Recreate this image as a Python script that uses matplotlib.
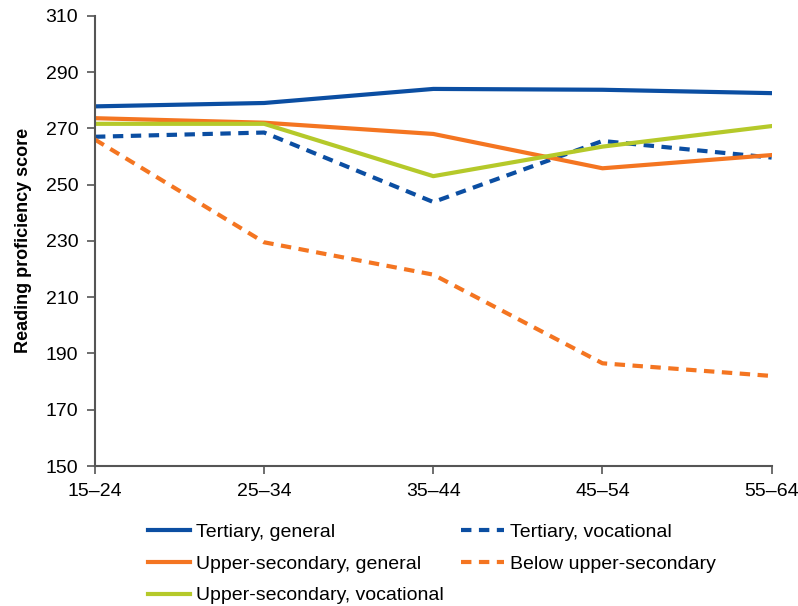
import matplotlib
matplotlib.use("Agg")
import matplotlib.pyplot as plt

plt.rcParams['font.family'] = ['Liberation Sans', 'DejaVu Sans']

ages = ["15\u201324", "25\u201334", "35\u201344", "45\u201354", "55\u201364"]

tertiary_general = [277.8, 279.0, 284.0, 283.7, 282.5]
upper_sec_general = [273.6, 272.0, 268.0, 255.8, 260.5]
upper_sec_vocational = [271.6, 271.6, 253.0, 263.5, 270.8]
tertiary_vocational = [267.0, 268.5, 243.8, 265.5, 259.6]
below_upper_sec = [266.0, 229.5, 218.0, 186.5, 182.0]

y_ticks = [150, 170, 190, 210, 230, 250, 270, 290, 310]

blue = "#0b4ea2"
orange = "#f47521"
green = "#b5c92a"

fig = plt.figure(figsize=(7.98, 6.06), dpi=100)
ax = fig.add_axes([0.119, 0.231, 0.848, 0.743])

x = range(len(ages))
lw = 3.0
ax.plot(x, tertiary_general, color=blue, lw=lw, label="Tertiary, general")
ax.plot(x, tertiary_vocational, color=blue, lw=lw, ls=(0, (2.5, 1.8)), label="Tertiary, vocational")
ax.plot(x, upper_sec_general, color=orange, lw=lw, label="Upper-secondary, general")
ax.plot(x, below_upper_sec, color=orange, lw=lw, ls=(0, (2.5, 1.8)), label="Below upper-secondary")
ax.plot(x, upper_sec_vocational, color=green, lw=lw, label="Upper-secondary, vocational")

ax.set_xlim(0, len(ages) - 1)
ax.set_ylim(150, 310)
ax.set_xticks(list(x))
ax.set_xticklabels(ages, fontsize=14)
ax.set_yticks(y_ticks)
ax.set_yticklabels([str(v) for v in y_ticks], fontsize=14)
ax.tick_params(axis="both", direction="out", length=6, width=1.2, color="#555555", pad=6)
for s in ["top", "right"]:
    ax.spines[s].set_visible(False)
for s in ["left", "bottom"]:
    ax.spines[s].set_color("#555555")
    ax.spines[s].set_linewidth(1.5)

ax.set_ylabel("Reading proficiency score", fontsize=13, fontweight="bold", labelpad=10)

# legend order: column-wise fill
handles, labels = ax.get_legend_handles_labels()
order = [0, 2, 4, 1, 3]
leg = fig.legend([handles[i] for i in order], [labels[i] for i in order],
                 loc="upper left", bbox_to_anchor=(0.185, 0.136), ncol=2,
                 frameon=False, fontsize=14, handlelength=2.2, handletextpad=0.3,
                 columnspacing=0.9, labelspacing=0.72, borderpad=0, borderaxespad=0)

fig.savefig("out.png", dpi=100)
